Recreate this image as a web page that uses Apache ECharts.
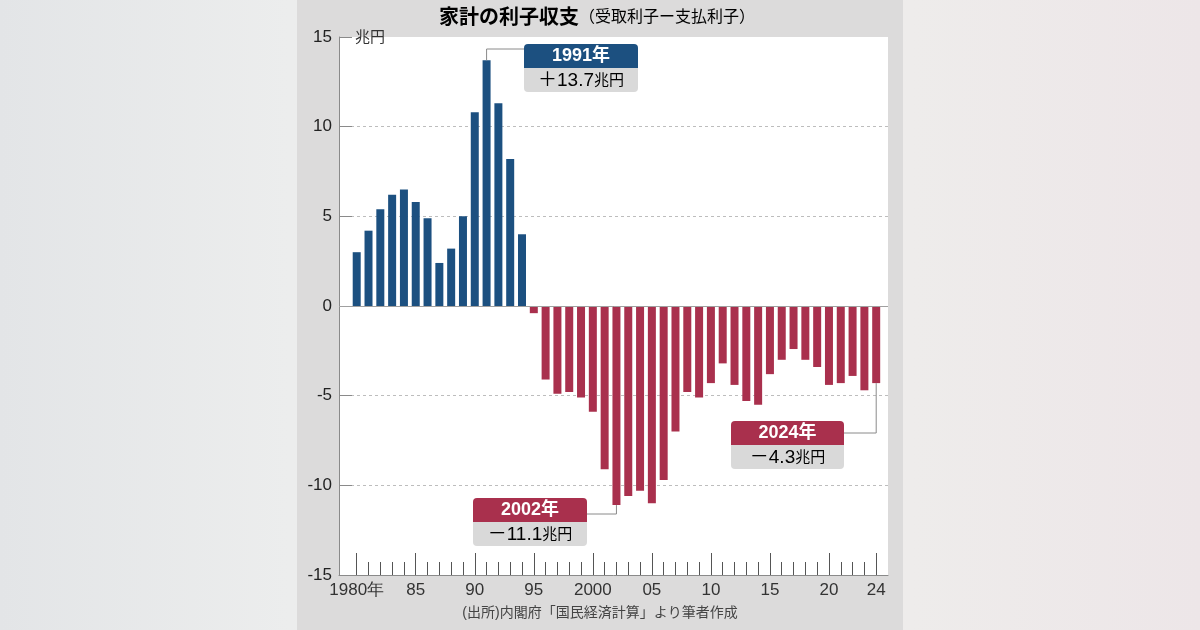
<!DOCTYPE html>
<html><head><meta charset="utf-8">
<script src="https://cdn.jsdelivr.net/npm/echarts@6/dist/echarts.min.js"></script>
<style>
html,body{margin:0;padding:0;}
#wrap{position:relative;width:1200px;height:630px;background:linear-gradient(90deg,#e3e5e7 0%,#eceded 24%,#eeeceb 76%,#ede6e8 100%);overflow:hidden;}
#panel{position:absolute;left:297px;top:0;width:606px;height:630px;background:#dcdbdb;}
#c{position:absolute;left:0;top:0;width:1200px;height:630px;}
</style></head>
<body><div id="wrap"><div id="panel"></div><div id="c"></div></div>
<script>
const years = [1980,1981,1982,1983,1984,1985,1986,1987,1988,1989,1990,1991,1992,1993,1994,
  1995,1996,1997,1998,1999,2000,2001,2002,2003,2004,2005,2006,2007,2008,2009,
  2010,2011,2012,2013,2014,2015,2016,2017,2018,2019,2020,2021,2022,2023,2024];
const values = [3.0,4.2,5.4,6.2,6.5,5.8,4.9,2.4,3.2,5.0,10.8,13.7,11.3,8.2,4.0,
  -0.4,-4.1,-4.9,-4.8,-5.1,-5.9,-9.1,-11.1,-10.6,-10.3,-11.0,-9.7,-7.0,-4.8,-5.1,
  -4.3,-3.2,-4.4,-5.3,-5.5,-3.8,-3.0,-2.4,-3.0,-3.4,-4.4,-4.3,-3.9,-4.7,-4.3];
const majorTicks = [1980,1985,1990,1995,2000,2005,2010,2015,2020,2024];
const tickLabels = ['1980年','85','90','95','2000','05','10','15','20','24'];
const titleMain = '家計の利子収支';
const titleSub = '（受取利子ー支払利子）';
const unitLabel = '兆円';
const sourceText = '(出所)内閣府「国民経済計算」より筆者作成';

const BLUE = '#1c5080', RED = '#a9304d';
const NARROW = '"Liberation Sans Narrow","Arial Narrow","Liberation Sans",sans-serif';
const JP = '"Liberation Sans","Noto Sans CJK JP",sans-serif';
const minorTicks = years.filter(y => majorTicks.indexOf(y) < 0);

const chart = echarts.init(document.getElementById('c'), null, {renderer:'canvas'});
chart.setOption({
  animation:false,
  backgroundColor:'transparent',
  grid:{left:339,right:312,top:37,bottom:55,show:true,backgroundColor:'#fff',borderWidth:0},
  xAxis:[{
    type:'value',min:1978.5,max:2025,position:'bottom',
    axisLine:{show:true,onZero:false,lineStyle:{color:'#8a8a8a',width:1}},
    axisTick:{show:true,inside:true,length:22,customValues:majorTicks,lineStyle:{color:'#555',width:1}},
    axisLabel:{show:true,customValues:majorTicks,margin:7,color:'#333',fontSize:17,fontFamily:NARROW,
      formatter:v=>{const i=majorTicks.indexOf(Math.round(v));return i>=0?tickLabels[i]:'';}},
    splitLine:{show:false}
  },{
    type:'value',min:1978.5,max:2025,position:'bottom',
    axisLine:{show:false,onZero:false},
    axisTick:{show:true,inside:true,length:13,customValues:minorTicks,lineStyle:{color:'#555',width:1}},
    axisLabel:{show:false},
    splitLine:{show:false}
  }],
  yAxis:{
    type:'value',min:-15,max:15,interval:5,
    axisLine:{show:true,onZero:false,lineStyle:{color:'#8a8a8a',width:1}},
    axisTick:{show:true,inside:true,length:13,lineStyle:{color:'#8a8a8a'}},
    axisLabel:{margin:7,color:'#222',fontSize:17,fontFamily:NARROW},
    splitLine:{show:true,showMinLine:false,showMaxLine:false,lineStyle:{type:[3,3],color:'#bdbdbd',width:1}}
  },
  series:[{
    type:'bar',xAxisIndex:0,yAxisIndex:0,barWidth:8,
    data:years.map((y,i)=>[y,values[i]]),
    itemStyle:{color:p=>p.value[1]>=0?BLUE:RED},
    markLine:{silent:true,symbol:'none',label:{show:false},
      lineStyle:{type:'solid',color:'#a0a0a0',width:1},data:[{yAxis:0}]}
  }]
});

function px(y,v){return chart.convertToPixel({xAxisIndex:0,yAxisIndex:0},[y,v]);}
function fmt(v){return (v>0?'＋':'－')+Math.abs(v).toFixed(1);}
function box(year, bx, by, w, color, anchorY, fromLeft){
  const v = values[years.indexOf(year)];
  const p = px(year, v);
  const edge = fromLeft ? bx : bx + w;
  const els = [];
  els.push({type:'polyline',z:50,shape:{points:[[p[0],p[1]],[p[0],anchorY],[edge,anchorY]]},
    style:{stroke:'#8a8a8a',lineWidth:1,fill:null}});
  els.push({type:'rect',z:50,shape:{x:bx,y:by,width:w,height:24,r:[4,4,0,0]},style:{fill:color}});
  els.push({type:'rect',z:50,shape:{x:bx,y:by+24,width:w,height:24,r:[0,0,4,4]},style:{fill:'#d9d9d9'}});
  els.push({type:'text',z:51,x:bx+w/2,y:by+12.5,style:{text:year+'年',fill:'#fff',
    font:'bold 18px '+JP,align:'center',verticalAlign:'middle'}});
  els.push({type:'text',z:51,x:bx+w/2,y:by+37,style:{
    text:'{a|'+fmt(v)+'}{b|'+unitLabel+'}',align:'center',verticalAlign:'middle',
    rich:{a:{fontSize:19,fontFamily:JP,color:'#222'},b:{fontSize:15,fontFamily:JP,color:'#222'}}}});
  return els;
}
const b1 = box(1991, 524, 44, 114, BLUE, 49, true);
const b2 = box(2002, 473, 498, 114, RED, 514, false);
const b3 = box(2024, 731, 421, 113, RED, 433, false);

chart.setOption({graphic:[].concat(b1,b2,b3,[
  {type:'text',z:60,x:597,y:18,style:{text:'{m|'+titleMain+'}{s|'+titleSub+'}',align:'center',verticalAlign:'middle',
    rich:{m:{fontSize:20,fontWeight:'bold',fontFamily:JP,color:'#222'},s:{fontSize:16,fontFamily:JP,color:'#333'}}}},
  {type:'text',z:60,x:355,y:38,style:{text:unitLabel,fill:'#333',font:'15px '+JP,verticalAlign:'middle'}},
  {type:'text',z:60,x:600,y:613,style:{text:sourceText,fill:'#444',font:'14px '+JP,align:'center',verticalAlign:'middle'}}
])});
</script></body></html>
